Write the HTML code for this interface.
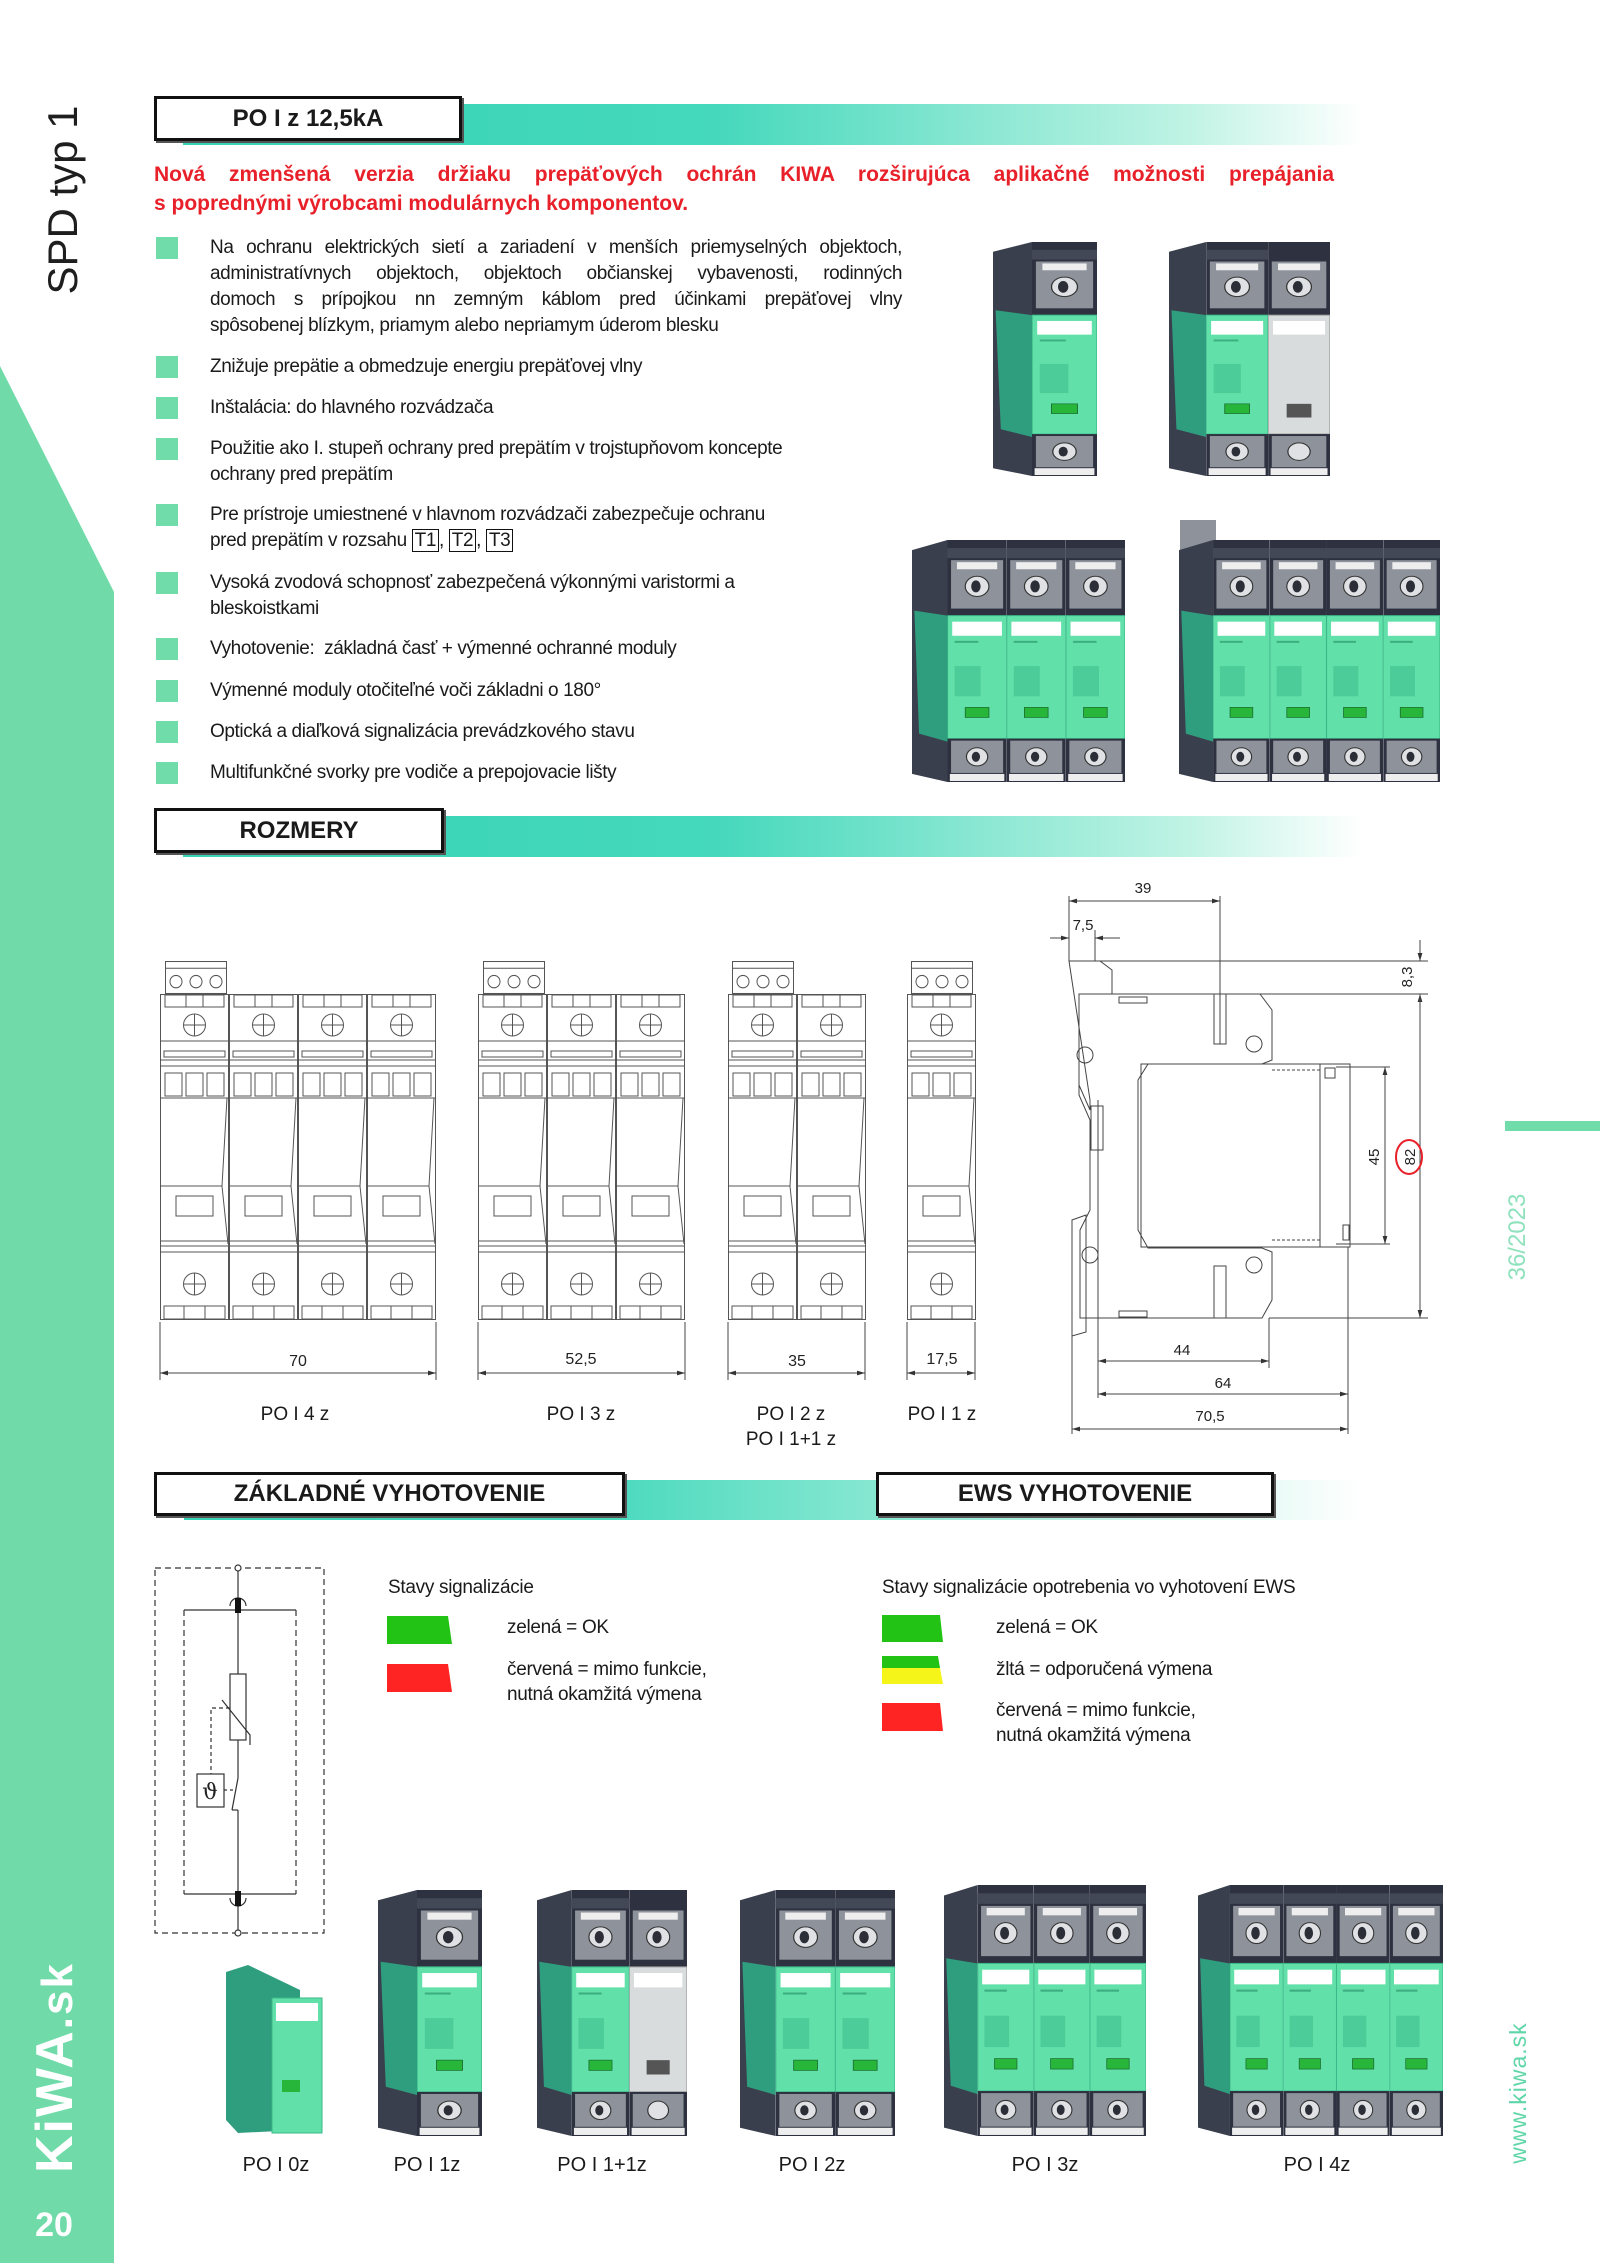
<!DOCTYPE html>
<html><head><meta charset="utf-8">
<style>
html,body{margin:0;padding:0;background:#fff;}
#pg{position:relative;width:1600px;height:2263px;overflow:hidden;font-family:"Liberation Sans",sans-serif;color:#1a1a1a;}
.abs{position:absolute;}
.hbox{position:absolute;border:3px solid #111;background:#fff;box-sizing:border-box;font-weight:bold;font-size:24px;text-align:center;box-shadow:2px 2px 0 #555;}
.bar{position:absolute;}
.bl{position:absolute;left:156px;width:22px;height:22px;background:#6fdcaa;}
.bt{position:absolute;left:210px;font-size:19px;letter-spacing:-0.4px;line-height:26px;white-space:nowrap;}
.jl{display:block;text-align:justify;text-align-last:justify;width:692px;white-space:normal;}
.tb{border:1.5px solid #111;padding:0 2px;}
</style></head><body><div id="pg">

<svg class="abs" style="left:0;top:0" width="120" height="2263">
<polygon points="0,366 114,592 114,2263 0,2263" fill="#70dba8"/>
</svg>
<div class="abs" style="left:-32px;top:178px;width:190px;height:44px;transform:rotate(-90deg);font-size:42px;line-height:44px;color:#1e1e1e;text-align:center;">SPD typ 1</div>
<div class="abs" style="left:-50px;top:2040px;width:210px;height:56px;transform:rotate(-90deg);font-weight:bold;font-size:52px;line-height:56px;color:#fff;letter-spacing:2px;text-align:center;">KiWA<span style="font-size:44px">.sk</span></div>
<div class="abs" style="left:22px;top:2206px;width:64px;font-weight:bold;font-size:34px;color:#fff;text-align:center;">20</div>

<div class="bar" style="left:183px;top:104px;width:1180px;height:41px;background:linear-gradient(90deg,#36d4b6 0%,#45d8bc 45%,#bff3e4 85%,#fff 100%);"></div>
<div class="hbox" style="left:154px;top:96px;width:308px;height:45px;line-height:39px;">PO I z 12,5kA</div>

<div class="abs" style="left:154px;top:160px;width:1180px;font-weight:bold;font-size:21px;line-height:29px;color:#e8202a;">
<div style="text-align:justify;text-align-last:justify;">Nová zmenšená verzia držiaku prepäťových ochrán KIWA rozširujúca aplikačné možnosti prepájania</div>
<div>s poprednými výrobcami modulárnych komponentov.</div></div>

<div class="bl" style="top:237px"></div><div class="bt" style="top:235px;">
<span class="jl">Na ochranu elektrických sietí a zariadení v menších priemyselných objektoch,</span>
<span class="jl">administratívnych objektoch, objektoch občianskej vybavenosti, rodinných</span>
<span class="jl">domoch s prípojkou nn zemným káblom pred účinkami prepäťovej vlny</span>
<span style="display:block">spôsobenej blízkym, priamym alebo nepriamym úderom blesku</span></div>
<div class="bl" style="top:356px"></div><div class="bt" style="top:354px">Znižuje prepätie a obmedzuje energiu prepäťovej vlny</div>
<div class="bl" style="top:397px"></div><div class="bt" style="top:395px">Inštalácia: do hlavného rozvádzača</div>
<div class="bl" style="top:438px"></div><div class="bt" style="top:436px">Použitie ako I. stupeň ochrany pred prepätím v trojstupňovom koncepte<br>ochrany pred prepätím</div>
<div class="bl" style="top:504px"></div><div class="bt" style="top:502px">Pre prístroje umiestnené v hlavnom rozvádzači zabezpečuje ochranu<br>pred prepätím v rozsahu <span class="tb">T1</span>, <span class="tb">T2</span>, <span class="tb">T3</span></div>
<div class="bl" style="top:572px"></div><div class="bt" style="top:570px">Vysoká zvodová schopnosť zabezpečená výkonnými varistormi a<br>bleskoistkami</div>
<div class="bl" style="top:638px"></div><div class="bt" style="top:636px">Vyhotovenie:&nbsp; základná časť + výmenné ochranné moduly</div>
<div class="bl" style="top:680px"></div><div class="bt" style="top:678px">Výmenné moduly otočiteľné voči základni o 180°</div>
<div class="bl" style="top:721px"></div><div class="bt" style="top:719px">Optická a diaľková signalizácia prevádzkového stavu</div>
<div class="bl" style="top:762px"></div><div class="bt" style="top:760px">Multifunkčné svorky pre vodiče a prepojovacie lišty</div>

<div class="bar" style="left:183px;top:816px;width:1180px;height:41px;background:linear-gradient(90deg,#36d4b6 0%,#45d8bc 45%,#bff3e4 85%,#fff 100%);"></div>
<div class="hbox" style="left:154px;top:808px;width:290px;height:45px;line-height:39px;">ROZMERY</div>

<div class="bar" style="left:184px;top:1480px;width:1180px;height:40px;background:linear-gradient(90deg,#36d4b6 0%,#48d9bd 35%,#8ae8d2 60%,#d6f7ee 85%,#fff 100%);"></div>
<div class="hbox" style="left:154px;top:1472px;width:471px;height:44px;line-height:38px;">ZÁKLADNÉ VYHOTOVENIE</div>
<div class="hbox" style="left:876px;top:1472px;width:398px;height:44px;line-height:38px;">EWS VYHOTOVENIE</div>

<div class="abs" style="left:1505px;top:1121px;width:95px;height:10px;background:#6fdcaa;"></div>
<div class="abs" style="left:1468px;top:1222px;width:100px;height:30px;transform:rotate(-90deg);font-size:24px;line-height:30px;color:#8fe2bd;text-align:center;">36/2023</div>
<div class="abs" style="left:1438px;top:2078px;width:160px;height:30px;transform:rotate(-90deg);font-size:23px;line-height:30px;color:#5fd6a8;text-align:center;letter-spacing:1px;">www.kiwa.sk</div>

<svg class="abs" style="left:0;top:0" width="1600" height="2263" font-family="Liberation Sans, sans-serif">
<defs>
<symbol id="pole" viewBox="0 0 50 240" preserveAspectRatio="none">
<rect x="0" y="0" width="50" height="75" fill="#2e3240"/>
<rect x="0" y="8" width="50" height="10" fill="#434857"/>
<rect x="3" y="20" width="44" height="48" fill="#8e939b"/>
<rect x="8" y="22" width="34" height="7" fill="#eee"/>
<circle cx="25" cy="46" r="10" fill="#dfe1e4" stroke="#333"/>
<ellipse cx="24" cy="46" rx="4" ry="6" fill="#2b2e36"/>
<rect x="0" y="75" width="50" height="122" fill="#62e0aa" stroke="#3bb888" stroke-width="1"/>
<rect x="4" y="81" width="42" height="14" fill="#fff"/>
<rect x="6" y="100" width="20" height="2" fill="#3cae80"/>
<rect x="6" y="125" width="22" height="30" fill="#4ccc98"/>
<rect x="15" y="166" width="20" height="10" fill="#27b53a" stroke="#1a6e30" stroke-width="0.7"/>
<rect x="0" y="197" width="50" height="43" fill="#2e3240"/>
<rect x="3" y="199" width="44" height="32" fill="#8e939b"/>
<circle cx="25" cy="215" r="9" fill="#dfe1e4" stroke="#333"/>
<ellipse cx="24" cy="215" rx="3.5" ry="5" fill="#2b2e36"/>
<rect x="2" y="232" width="46" height="7" fill="#eee"/>
</symbol>
<symbol id="poleg" viewBox="0 0 50 240" preserveAspectRatio="none">
<rect x="0" y="0" width="50" height="75" fill="#2e3240"/>
<rect x="3" y="20" width="44" height="48" fill="#8e939b"/>
<rect x="8" y="22" width="34" height="7" fill="#eee"/>
<circle cx="25" cy="46" r="10" fill="#dfe1e4" stroke="#333"/>
<ellipse cx="24" cy="46" rx="4" ry="6" fill="#2b2e36"/>
<rect x="0" y="75" width="50" height="122" fill="#d8dcdc" stroke="#999" stroke-width="1"/>
<rect x="4" y="81" width="42" height="14" fill="#fff"/>
<rect x="15" y="166" width="20" height="14" fill="#555"/>
<rect x="0" y="197" width="50" height="43" fill="#2e3240"/>
<rect x="3" y="199" width="44" height="32" fill="#8e939b"/>
<circle cx="25" cy="215" r="9" fill="#dfe1e4" stroke="#333"/>
<rect x="2" y="232" width="46" height="7" fill="#eee"/>
</symbol>
<symbol id="side" viewBox="0 0 30 240" preserveAspectRatio="none">
<polygon points="0,10 30,0 30,240 0,232" fill="#3a3f4d"/>
<polygon points="2,70 30,75 30,200 6,192" fill="#2f9e7e"/>
</symbol>
<symbol id="fm" viewBox="0 0 69 326" preserveAspectRatio="none">
<g fill="none" stroke="#555" stroke-width="1">
<rect x="0.5" y="0.5" width="68" height="325"/>
<rect x="5" y="1" width="59" height="12"/>
<line x1="26" y1="1" x2="26" y2="13"/><line x1="43" y1="1" x2="43" y2="13"/>
<circle cx="34.5" cy="31" r="11"/><line x1="34.5" y1="20" x2="34.5" y2="42"/><line x1="23.5" y1="31" x2="45.5" y2="31"/>
<line x1="0" y1="47" x2="69" y2="47"/>
<rect x="4" y="57" width="61" height="6"/>
<line x1="0" y1="66" x2="69" y2="66"/><line x1="0" y1="72" x2="69" y2="72"/>
<rect x="5" y="79" width="17" height="23"/><rect x="26" y="79" width="17" height="23"/><rect x="47" y="79" width="17" height="23"/>
<line x1="0" y1="104" x2="69" y2="104"/>
<polyline points="67,104 62,192 68,250"/>
<line x1="0" y1="192" x2="62" y2="192"/>
<rect x="16" y="202" width="37" height="20"/>
<line x1="0" y1="247" x2="69" y2="247"/><line x1="0" y1="252" x2="69" y2="252"/><line x1="0" y1="258" x2="69" y2="258"/>
<circle cx="34.5" cy="290" r="11"/><line x1="34.5" y1="279" x2="34.5" y2="301"/><line x1="23.5" y1="290" x2="45.5" y2="290"/>
<rect x="4" y="312" width="61" height="13"/><rect x="24" y="312" width="21" height="13"/>
</g>
</symbol>
<symbol id="term" viewBox="0 0 62 32" preserveAspectRatio="none">
<g fill="none" stroke="#555" stroke-width="1"><rect x="0.5" y="0.5" width="61" height="31"/><line x1="0" y1="7" x2="62" y2="7"/>
<circle cx="11" cy="20" r="6"/><circle cx="31" cy="20" r="6"/><circle cx="51" cy="20" r="6"/></g>
</symbol>
<marker id="ar" viewBox="0 0 10 10" refX="10" refY="5" markerWidth="8" markerHeight="8" orient="auto-start-reverse"><path d="M0,2 L10,5 L0,8 z" fill="#333"/></marker>
</defs>

<svg x="993" y="242" width="104" height="234" viewBox="0 0 80 240" preserveAspectRatio="none"><use href="#side" x="0" y="0" width="30" height="240"/><use href="#pole" x="30" y="0" width="50" height="240"/></svg>
<svg x="1169" y="242" width="161" height="234" viewBox="0 0 130 240" preserveAspectRatio="none"><use href="#side" x="0" y="0" width="30" height="240"/><use href="#pole" x="30" y="0" width="50" height="240"/><use href="#poleg" x="80" y="0" width="50" height="240"/></svg>
<svg x="912" y="540" width="213" height="242" viewBox="0 0 180 240" preserveAspectRatio="none"><use href="#side" x="0" y="0" width="30" height="240"/><use href="#pole" x="30" y="0" width="50" height="240"/><use href="#pole" x="80" y="0" width="50" height="240"/><use href="#pole" x="130" y="0" width="50" height="240"/></svg>
<rect x="1180" y="520" width="36" height="30" fill="#8e939b"/>
<svg x="1179" y="540" width="261" height="242" viewBox="0 0 230 240" preserveAspectRatio="none"><use href="#side" x="0" y="0" width="30" height="240"/><use href="#pole" x="30" y="0" width="50" height="240"/><use href="#pole" x="80" y="0" width="50" height="240"/><use href="#pole" x="130" y="0" width="50" height="240"/><use href="#pole" x="180" y="0" width="50" height="240"/></svg>

<g>
<use href="#term" x="165" y="961" width="62" height="33"/>
<use href="#fm" x="160" y="994" width="69" height="326"/><use href="#fm" x="229" y="994" width="69" height="326"/><use href="#fm" x="298" y="994" width="69" height="326"/><use href="#fm" x="367" y="994" width="69" height="326"/>
<use href="#term" x="483" y="961" width="62" height="33"/>
<use href="#fm" x="478" y="994" width="69" height="326"/><use href="#fm" x="547" y="994" width="69" height="326"/><use href="#fm" x="616" y="994" width="69" height="326"/>
<use href="#term" x="732" y="961" width="62" height="33"/>
<use href="#fm" x="728" y="994" width="69" height="326"/><use href="#fm" x="797" y="994" width="69" height="326"/>
<use href="#term" x="911" y="961" width="62" height="33"/>
<use href="#fm" x="907" y="994" width="69" height="326"/>
<g stroke="#444" stroke-width="1" fill="none">
<line x1="160" y1="1322" x2="160" y2="1380"/><line x1="436" y1="1322" x2="436" y2="1380"/>
<line x1="160" y1="1373" x2="436" y2="1373" marker-start="url(#ar)" marker-end="url(#ar)"/>
<line x1="478" y1="1322" x2="478" y2="1380"/><line x1="685" y1="1322" x2="685" y2="1380"/>
<line x1="478" y1="1373" x2="685" y2="1373" marker-start="url(#ar)" marker-end="url(#ar)"/>
<line x1="728" y1="1322" x2="728" y2="1380"/><line x1="865" y1="1322" x2="865" y2="1380"/>
<line x1="728" y1="1373" x2="865" y2="1373" marker-start="url(#ar)" marker-end="url(#ar)"/>
<line x1="907" y1="1322" x2="907" y2="1380"/><line x1="975" y1="1322" x2="975" y2="1380"/>
<line x1="907" y1="1373" x2="975" y2="1373" marker-start="url(#ar)" marker-end="url(#ar)"/>
</g>
<g font-size="16" fill="#222" text-anchor="middle">
<text x="298" y="1366">70</text><text x="581" y="1364">52,5</text><text x="797" y="1366">35</text><text x="942" y="1364">17,5</text>
</g>
<g font-size="19" fill="#1a1a1a" text-anchor="middle">
<text x="295" y="1420">PO I 4 z</text><text x="581" y="1420">PO I 3 z</text><text x="791" y="1420">PO I 2 z</text><text x="791" y="1445">PO I 1+1 z</text><text x="942" y="1420">PO I 1 z</text>
</g>
</g>

<g stroke="#444" stroke-width="1" fill="none">
<line x1="1069" y1="896" x2="1069" y2="961"/><line x1="1220" y1="896" x2="1220" y2="1044"/>
<line x1="1069" y1="901" x2="1220" y2="901" marker-start="url(#ar)" marker-end="url(#ar)"/>
<line x1="1050" y1="938" x2="1069" y2="938" marker-end="url(#ar)"/><line x1="1120" y1="938" x2="1095" y2="938" marker-end="url(#ar)"/>
<line x1="1095" y1="930" x2="1095" y2="961"/>
<line x1="1069" y1="961" x2="1428" y2="961"/><line x1="1080" y1="994" x2="1428" y2="994"/>
<line x1="1420" y1="940" x2="1420" y2="961" marker-end="url(#ar)"/><line x1="1420" y1="1015" x2="1420" y2="994" marker-end="url(#ar)"/>
<line x1="1420" y1="994" x2="1420" y2="1318" marker-end="url(#ar)"/>
<line x1="1269" y1="1318" x2="1428" y2="1318"/>
<line x1="1336" y1="1067" x2="1390" y2="1067"/><line x1="1336" y1="1244" x2="1390" y2="1244"/>
<line x1="1385" y1="1067" x2="1385" y2="1244" marker-start="url(#ar)" marker-end="url(#ar)"/>
<polygon points="1069,961 1100,961 1112,970 1112,994 1079,994 1079,1085 1090,1110 1090,1100"/>
<polyline points="1079,994 1260,994 1272,1010 1272,1060 1262,1064 1148,1064 1138,1080 1138,1230 1148,1248 1262,1248 1272,1252 1272,1300 1262,1318 1080,1318 1080,1230 1090,1210 1090,1120 1079,1095 1079,994"/>
<line x1="1098" y1="1100" x2="1098" y2="1318"/>
<rect x="1091" y="1106" width="12" height="44"/>
<polygon points="1072,1220 1086,1215 1086,1332 1072,1336"/>
<rect x="1141" y="1064" width="209" height="183"/>
<line x1="1320" y1="1064" x2="1320" y2="1247"/>
<rect x="1325" y="1068" width="10" height="10"/><rect x="1343" y="1225" width="6" height="15"/>
<line x1="1272" y1="1070" x2="1320" y2="1070" stroke-dasharray="3,2"/><line x1="1272" y1="1240" x2="1320" y2="1240" stroke-dasharray="3,2"/>
<circle cx="1085" cy="1055" r="8"/><circle cx="1254" cy="1044" r="8"/><circle cx="1090" cy="1255" r="8"/><circle cx="1254" cy="1265" r="8"/>
<rect x="1119" y="997" width="28" height="6"/><rect x="1119" y="1311" width="28" height="6"/>
<rect x="1214" y="994" width="12" height="50"/><rect x="1214" y="1266" width="12" height="52"/>
<line x1="1098" y1="1318" x2="1098" y2="1398"/><line x1="1269" y1="1318" x2="1269" y2="1368"/>
<line x1="1072" y1="1336" x2="1072" y2="1434"/><line x1="1348" y1="1247" x2="1348" y2="1434"/>
<line x1="1098" y1="1361" x2="1269" y2="1361" marker-start="url(#ar)" marker-end="url(#ar)"/>
<line x1="1098" y1="1394" x2="1348" y2="1394" marker-start="url(#ar)" marker-end="url(#ar)"/>
<line x1="1072" y1="1429" x2="1348" y2="1429" marker-start="url(#ar)" marker-end="url(#ar)"/>
<ellipse cx="1409" cy="1157" rx="13" ry="17" stroke="#e8202a" stroke-width="2"/>
</g>
<g font-size="15" fill="#222" text-anchor="middle">
<text x="1143" y="893">39</text><text x="1083" y="930">7,5</text>
<text x="1182" y="1355">44</text><text x="1223" y="1388">64</text><text x="1210" y="1421">70,5</text>
<text transform="translate(1412,977) rotate(-90)">8,3</text>
<text transform="translate(1379,1157) rotate(-90)">45</text>
<text transform="translate(1415,1157) rotate(-90)">82</text>
</g>

<g stroke="#333" stroke-width="1.2" fill="none">
<rect x="155" y="1568" width="169" height="365" stroke-dasharray="6,4"/>
<line x1="184" y1="1610" x2="296" y2="1610"/><line x1="184" y1="1894" x2="296" y2="1894"/>
<line x1="184" y1="1610" x2="184" y2="1894" stroke-dasharray="6,4"/><line x1="296" y1="1610" x2="296" y2="1894" stroke-dasharray="6,4"/>
<line x1="238" y1="1568" x2="238" y2="1674"/>
<rect x="230" y="1674" width="16" height="66"/>
<polyline points="222,1700 250,1735 250,1745"/>
<line x1="238" y1="1740" x2="238" y2="1778"/>
<line x1="238" y1="1778" x2="232" y2="1810"/>
<line x1="232" y1="1810" x2="238" y2="1810"/>
<line x1="238" y1="1810" x2="238" y2="1933"/>
<polyline points="230,1708 211,1708 211,1774" stroke-dasharray="4,3"/>
<rect x="197" y="1774" width="27" height="33"/>
<line x1="224" y1="1790" x2="236" y2="1790" stroke-dasharray="3,3"/>
<path d="M230,1606 a8,8 0 0 1 16,0"/><path d="M230,1898 a8,8 0 0 0 16,0"/>
<circle cx="238" cy="1568" r="3" fill="#fff"/><circle cx="238" cy="1933" r="3" fill="#fff"/>
</g>
<rect x="235" y="1598" width="6" height="15" fill="#111"/><rect x="235" y="1891" width="6" height="15" fill="#111"/>
<text x="210" y="1799" font-size="22" text-anchor="middle" fill="#222" font-family="DejaVu Serif, serif">ϑ</text>

<polygon points="387,1616 448,1616 452,1644 387,1644" fill="#22c315"/>
<polygon points="387,1664 448,1664 452,1692 387,1692" fill="#fe2424"/>
<polygon points="882,1615 940,1615 943,1642 882,1642" fill="#22c315"/>
<polygon points="882,1656 938,1656 940,1668 882,1668" fill="#22c315"/>
<polygon points="882,1668 940,1668 943,1684 882,1684" fill="#f5f51a"/>
<polygon points="882,1703 940,1703 943,1731 882,1731" fill="#fe2424"/>
<g font-size="19" fill="#1a1a1a" letter-spacing="-0.3">
<text x="388" y="1593">Stavy signalizácie</text>
<text x="507" y="1633">zelená = OK</text>
<text x="507" y="1675">červená = mimo funkcie,</text>
<text x="507" y="1700">nutná okamžitá výmena</text>
<text x="882" y="1593">Stavy signalizácie opotrebenia vo vyhotovení EWS</text>
<text x="996" y="1633">zelená = OK</text>
<text x="996" y="1675">žltá = odporučená výmena</text>
<text x="996" y="1716">červená = mimo funkcie,</text>
<text x="996" y="1741">nutná okamžitá výmena</text>
</g>

<g>
<polygon points="226,1972 248,1965 300,1990 300,2130 238,2133 226,2120" fill="#2f9e7e"/>
<rect x="272" y="1998" width="50" height="135" fill="#62e0aa" stroke="#3bb888"/>
<rect x="276" y="2003" width="42" height="18" fill="#fff"/>
<rect x="282" y="2080" width="18" height="12" fill="#27b53a"/>
</g>
<svg x="378" y="1890" width="104" height="246" viewBox="0 0 80 240" preserveAspectRatio="none"><use href="#side" x="0" y="0" width="30" height="240"/><use href="#pole" x="30" y="0" width="50" height="240"/></svg>
<svg x="537" y="1890" width="150" height="246" viewBox="0 0 130 240" preserveAspectRatio="none"><use href="#side" x="0" y="0" width="30" height="240"/><use href="#pole" x="30" y="0" width="50" height="240"/><use href="#poleg" x="80" y="0" width="50" height="240"/></svg>
<svg x="740" y="1890" width="155" height="246" viewBox="0 0 130 240" preserveAspectRatio="none"><use href="#side" x="0" y="0" width="30" height="240"/><use href="#pole" x="30" y="0" width="50" height="240"/><use href="#pole" x="80" y="0" width="50" height="240"/></svg>
<svg x="944" y="1885" width="202" height="251" viewBox="0 0 180 240" preserveAspectRatio="none"><use href="#side" x="0" y="0" width="30" height="240"/><use href="#pole" x="30" y="0" width="50" height="240"/><use href="#pole" x="80" y="0" width="50" height="240"/><use href="#pole" x="130" y="0" width="50" height="240"/></svg>
<svg x="1198" y="1885" width="245" height="251" viewBox="0 0 230 240" preserveAspectRatio="none"><use href="#side" x="0" y="0" width="30" height="240"/><use href="#pole" x="30" y="0" width="50" height="240"/><use href="#pole" x="80" y="0" width="50" height="240"/><use href="#pole" x="130" y="0" width="50" height="240"/><use href="#pole" x="180" y="0" width="50" height="240"/></svg>
<g font-size="20" fill="#1a1a1a" text-anchor="middle">
<text x="276" y="2171">PO I 0z</text><text x="427" y="2171">PO I 1z</text><text x="602" y="2171">PO I 1+1z</text><text x="812" y="2171">PO I 2z</text><text x="1045" y="2171">PO I 3z</text><text x="1317" y="2171">PO I 4z</text>
</g>
</svg>

</div></body></html>
